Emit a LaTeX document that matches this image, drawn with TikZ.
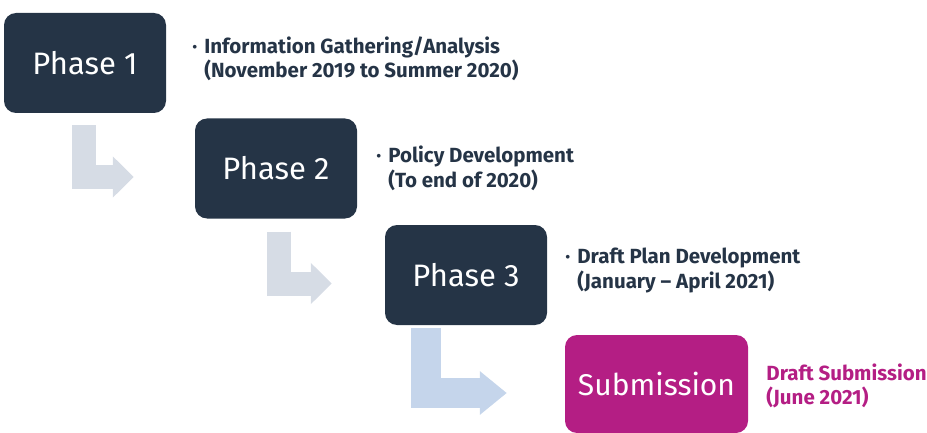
\documentclass[tikz,border=0pt]{standalone}
\usepackage{fontspec}
\setmainfont{Fira Sans}
\usetikzlibrary{positioning,arrows.meta}

\definecolor{phasenavy}{HTML}{253446}
\definecolor{submitpink}{HTML}{B41E84}
\definecolor{flowgray}{HTML}{D6DCE5}
\definecolor{flowblue}{HTML}{C5D5EB}

\newcommand{\phasenote}[2]{\makebox[12pt][l]{·}#1\\\hspace*{12pt}#2}

\begin{document}
\begin{tikzpicture}[
        x=1pt, y=-1pt,
        phase/.style={fill=phasenavy, text=white, rounded corners=12pt, minimum width=162pt, minimum height=100pt, inner sep=0pt, font=\fontsize{31}{36}\selectfont},
        submit/.style={phase, fill=submitpink, minimum width=183pt, minimum height=98pt, font=\fontsize{30}{36}\selectfont},
        note/.style={align=left, inner sep=0pt, text=phasenavy, font=\bfseries\fontsize{20.5}{24.5}\selectfont},
        flow/.style={line width=24pt, draw=flowgray, -{Triangle[width=40pt,length=21pt]}},
        bigflow/.style={line width=30pt, draw=flowblue, -{Triangle[width=42pt,length=27pt]}},
    ]
    \useasboundingbox (0,0) rectangle (927,433);

    % Phases
    \node[phase] (p1) at (85,63) {Phase 1};
    \node[phase] (p2) at (276,168.5) {Phase 2};
    \node[phase] (p3) at (466,275) {Phase 3};
    \node[submit] (sub) at (656.5,384) {Submission};

    % Notes
    \node[note, right=26pt of p1, yshift=4pt] (n1) {\phasenote{Information Gathering/Analysis}{(November 2019 to Summer 2020)}};
    \node[note, right=19pt of p2] (n2) {\phasenote{Policy Development}{(To end of 2020)}};
    \node[note, right=18pt of p3, yshift=4.5pt] (n3) {\phasenote{Draft Plan Development}{(January – April 2021)}};
    \node[note, text=submitpink, right=18pt of sub, yshift=-2pt] (n4) {Draft Submission\\(June 2021)};

    % Arrows
    \draw[flow] ([xshift=-1pt,yshift=-12pt]p1.south) |- ([xshift=-61pt,yshift=-8.5pt]p2.west);
    \draw[flow] ([xshift=3pt,yshift=-13pt]p2.south) |- ([xshift=-53pt,yshift=-8.5pt]p3.west);
    \draw[bigflow] ([xshift=-40pt,yshift=-3pt]p3.south) |- ([xshift=-58pt,yshift=-9pt]sub.west);

\end{tikzpicture}
\end{document}
